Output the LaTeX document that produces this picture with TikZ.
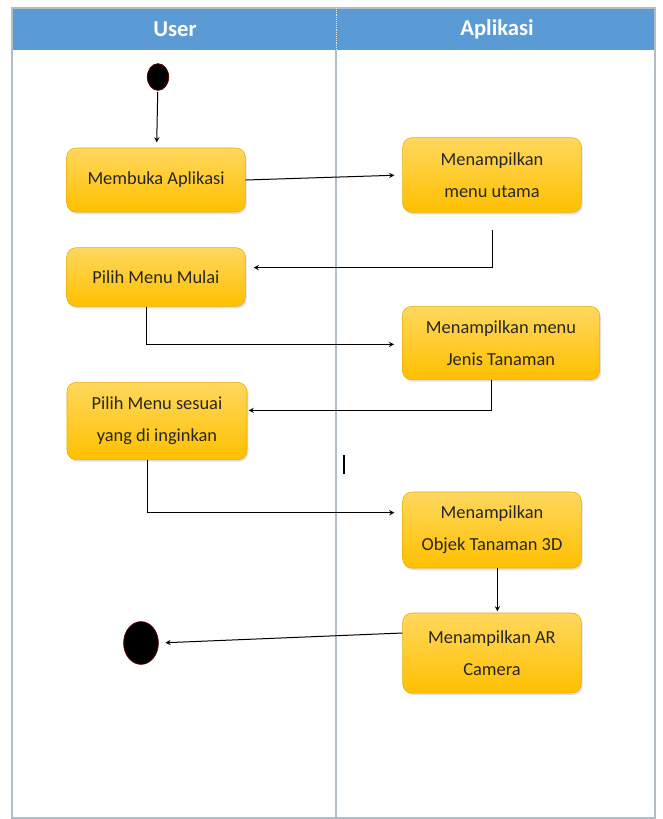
\documentclass[tikz,border=0pt]{standalone}
\usepackage{fontspec}
\setmainfont{Carlito}
\usetikzlibrary{shapes.geometric,shadows}

\definecolor{lanebar}{HTML}{5B9BD5}
\definecolor{laneline}{HTML}{B3BDC6}
\definecolor{boxtop}{HTML}{FFD75E}
\definecolor{boxbot}{HTML}{FFC000}
\definecolor{boxline}{HTML}{E8AE00}

\tikzset{
  aksi/.style={rectangle, rounded corners=7pt, draw=boxline, line width=0.4pt,
    top color=boxtop, bottom color=boxbot, align=center, text=black!85,
    font=\fontsize{13.8}{24}\selectfont, minimum width=134pt, minimum height=50pt,
    drop shadow={opacity=0.25, shadow xshift=1pt, shadow yshift=-1.5pt}},
  titik/.style={ellipse, fill=black, draw=red!35!black, line width=0.6pt, inner sep=0pt},
  panah/.style={-stealth, line width=0.75pt},
  judul/.style={text=white, font=\fontsize{17}{19}\selectfont\bfseries}
}

\begin{document}
\begin{tikzpicture}[x=0.75pt, y=-0.75pt]
  \useasboundingbox (0,0) rectangle (662,819);

  % Kolom (swimlane)
  \fill[lanebar] (12,8) rectangle (655,50);
  \draw[laneline, line width=0.8pt] (12,8) rectangle (655,818);
  \draw[laneline, line width=0.8pt] (336,50) -- (336,818);
  \draw[white!80!lanebar, densely dotted] (336,8) -- (336,50);
  \node[judul] (user) at (175,29) {User};
  \node[judul] (aplikasi) at (497,29) {Aplikasi};

  % Titik awal dan akhir
  \node[titik, minimum width=16pt, minimum height=20pt] (awal) at (158,77) {};
  \node[titik, minimum width=26pt, minimum height=32pt] (akhir) at (141,643) {};

  % Aktivitas
  \node[aksi, minimum height=48pt] (buka) at (156,180) {Membuka Aplikasi};
  \node[aksi, minimum height=56pt] (utama) at (492,175) {Menampilkan\\menu utama};
  \node[aksi, minimum height=44pt] (mulai) at (156,277) {Pilih Menu Mulai};
  \node[aksi, minimum width=148pt, minimum height=55pt] (jenis) at (501,343) {Menampilkan menu\\Jenis Tanaman};
  \node[aksi, minimum width=135pt, minimum height=58pt] (sesuai) at (157,421) {Pilih Menu sesuai\\yang di inginkan};
  \node[aksi, minimum height=57pt] (objek) at (492,530) {Menampilkan\\Objek Tanaman 3D};
  \node[aksi, minimum height=60pt] (kamera) at (492,653) {Menampilkan AR\\Camera};

  % Alur
  \draw[panah, shorten <=1pt, shorten >=4pt] (awal) -- (buka);
  \draw[panah, shorten >=6pt] (buka.east) -- (utama.west);
  \draw[panah, shorten >=6pt] ([yshift=-13pt]utama.south) |- ([yshift=7pt]mulai.east);
  \draw[panah, shorten >=6pt] ([xshift=-7pt]mulai.south) |- ([yshift=-1pt]jenis.west);
  \draw[panah, shorten >=1pt] ([xshift=-7pt]jenis.south) |- ([yshift=8pt]sesuai.east);
  \draw[panah, shorten >=6pt] ([xshift=-7pt]sesuai.south) |- ([yshift=13pt]objek.west);
  \draw[panah, shorten >=1pt] ([xshift=4pt]objek.south) -- ([xshift=4pt]kamera.north);
  \draw[panah, shorten >=5pt] ([yshift=15pt]kamera.west) -- (akhir.east);

  % Goresan kecil
  \draw[line width=1.2pt] (344,455) -- (344,474);
\end{tikzpicture}
\end{document}
